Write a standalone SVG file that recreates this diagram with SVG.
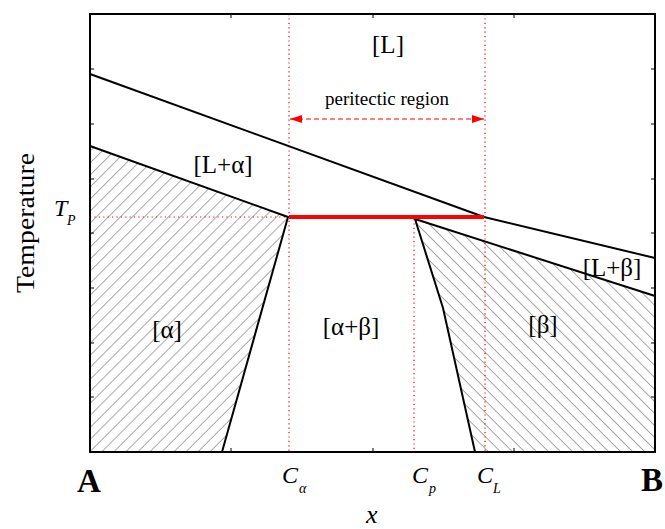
<svg xmlns="http://www.w3.org/2000/svg" width="665" height="529" viewBox="0 0 665 529">
<style>
.ser{font-family:"Liberation Serif","Times New Roman",serif;fill:#000}
.lab{font-size:25px}
.it{font-style:italic}
.curve{fill:none;stroke:#000;stroke-width:2;stroke-linejoin:round}
.dot{fill:none;stroke:#ff0000;stroke-width:1.2;stroke-dasharray:1.2,3.2}
.tick{stroke:#000;stroke-width:1}
</style>
<defs>
<pattern id="hatchA" patternUnits="userSpaceOnUse" width="8.5" height="8.5" patternTransform="rotate(45)">
<line x1="0" y1="0" x2="0" y2="8.5" stroke="#707070" stroke-width="1.2"/>
</pattern>
<pattern id="hatchB" patternUnits="userSpaceOnUse" width="8.5" height="8.5" patternTransform="rotate(-45)">
<line x1="0" y1="0" x2="0" y2="8.5" stroke="#707070" stroke-width="1.2"/>
</pattern>
<marker id="ah" viewBox="0 0 12 8" refX="12" refY="4" markerWidth="12" markerHeight="8" markerUnits="userSpaceOnUse" orient="auto-start-reverse">
<path d="M0,0 L12,4 L0,8 Z" fill="#ff0000"/>
</marker>
</defs>
<rect width="665" height="529" fill="#fff"/>

<g id="region-alpha">
<polygon points="90,146 288,217 222,452 90,452" fill="url(#hatchA)"/>
<text class="ser lab" x="167" y="338" text-anchor="middle">[α]</text>
</g>
<g id="region-beta">
<polygon points="415,219 655,296 655,452 475,452 443,308" fill="url(#hatchB)"/>
<text class="ser lab" x="543" y="333" text-anchor="middle">[β]</text>
</g>
<g id="region-L">
<text class="ser lab" x="388" y="53" text-anchor="middle">[L]</text>
</g>
<g id="region-L-alpha">
<text class="ser lab" x="223" y="173" text-anchor="middle">[L+α]</text>
</g>
<g id="region-L-beta">
<text class="ser lab" x="612" y="276" text-anchor="middle">[L+β]</text>
</g>
<g id="region-alpha-beta">
<text class="ser lab" x="351" y="335" text-anchor="middle">[α+β]</text>
</g>

<g id="guides">
<line class="dot" x1="289" y1="14" x2="289" y2="452"/>
<line class="dot" x1="485" y1="14" x2="485" y2="452"/>
<line class="dot" x1="414" y1="219" x2="414" y2="452"/>
<line class="dot" x1="90" y1="217" x2="289" y2="217"/>
</g>

<g id="connectors">
<path class="curve" d="M90,74 L484,217 L655,258"/>
<path class="curve" d="M90,146 L288,217 L222,452"/>
<path class="curve" d="M655,296 L415,219 L443,308 L475,452"/>
<line x1="289" y1="217" x2="484" y2="217" stroke="#ff0000" stroke-width="4"/>
<line x1="290" y1="119" x2="484" y2="119" stroke="#ff0000" stroke-width="1.2" stroke-dasharray="5,3" marker-start="url(#ah)" marker-end="url(#ah)"/>
</g>

<g id="frame">
<rect x="90" y="14" width="565" height="438" fill="none" stroke="#000" stroke-width="2"/>
<path class="tick" d="M90,69h4M90,124h4M90,179h4M90,233h4M90,288h4M90,343h4M90,397h4M655,69h-4M655,124h-4M655,179h-4M655,233h-4M655,288h-4M655,343h-4M655,397h-4M231,14v4M373,14v4M514,14v4M231,452v-4M373,452v-4M514,452v-4"/>
</g>

<g id="labels">
<text class="ser" x="387" y="105" font-size="19" text-anchor="middle">peritectic region</text>
<text class="ser" font-size="25" transform="translate(34,293) rotate(-90)" textLength="140" lengthAdjust="spacingAndGlyphs">Temperature</text>
<text class="ser it" x="54" y="216" font-size="24">T</text>
<text class="ser it" x="67" y="225" font-size="14">P</text>
<text class="ser it" x="282" y="483" font-size="24">C</text>
<text class="ser it" x="299" y="493" font-size="14">α</text>
<text class="ser it" x="412" y="483" font-size="24">C</text>
<text class="ser it" x="429" y="493" font-size="14">p</text>
<text class="ser it" x="477" y="483" font-size="24">C</text>
<text class="ser it" x="493" y="493" font-size="14">L</text>
<text class="ser it" x="366" y="523" font-size="26">x</text>
<text class="ser" x="77" y="492" font-size="33" font-weight="bold">A</text>
<text class="ser" x="641" y="491" font-size="33" font-weight="bold">B</text>
</g>
</svg>
